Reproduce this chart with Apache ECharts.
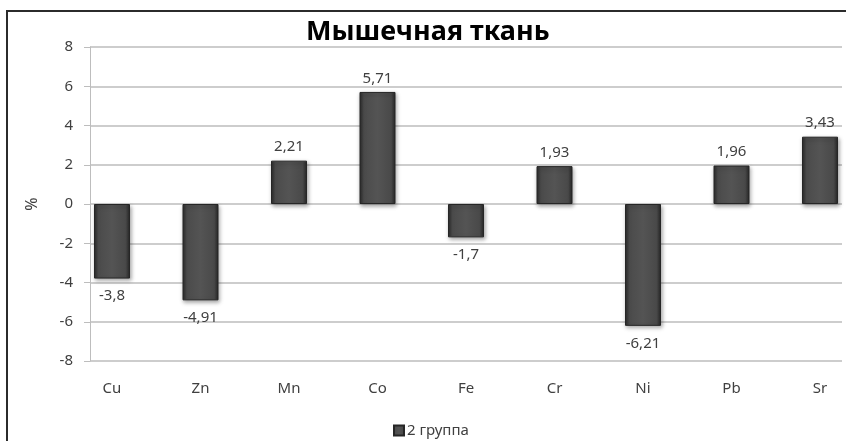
<!DOCTYPE html>
<html>
<head>
<meta charset="utf-8">
<script src="https://cdn.jsdelivr.net/npm/echarts@6/dist/echarts.min.js"></script>
<style>
  html, body { margin: 0; padding: 0; background: #fff; }
  #chart { width: 846px; height: 441px; }
</style>
</head>
<body>
<div id="chart"></div>
<script>
// Elements measured in muscle tissue, change in %
const categories = ['Cu', 'Zn', 'Mn', 'Co', 'Fe', 'Cr', 'Ni', 'Pb', 'Sr'];
const group2Values = [-3.8, -4.91, 2.21, 5.71, -1.7, 1.93, -6.21, 1.96, 3.43];
const yTicks = [-8, -6, -4, -2, 0, 2, 4, 6, 8];
const seriesName = '2 группа';
const chartTitle = 'Мышечная ткань';

const FONT = '"Noto Sans", "DejaVu Sans", sans-serif';
const TEXT = '#404040';

const barFill = {
  type: 'linear', x: 0, y: 0, x2: 1, y2: 0,
  colorStops: [
    { offset: 0, color: '#2a2a2a' },
    { offset: 0.12, color: '#4b4b4b' },
    { offset: 0.5, color: '#545454' },
    { offset: 0.88, color: '#494949' },
    { offset: 1, color: '#262626' }
  ]
};

const fmt = v => String(v).replace('.', ',');

// positive values are labelled above the bar, negative ones below it
const barData = group2Values.map(v => ({
  value: v,
  label: v >= 0 ? { position: 'top', distance: 6 } : { position: 'bottom', distance: 10 }
}));

const chart = echarts.init(document.getElementById('chart'), null, { renderer: 'canvas' });

chart.setOption({
  animation: false,
  backgroundColor: '#ffffff',
  title: {
    text: chartTitle,
    left: 306,
    top: 19,
    padding: 0,
    textStyle: { fontFamily: FONT, fontSize: 27, fontWeight: 'bold', color: '#000' }
  },
  legend: {
    bottom: 3,
    left: 393,
    padding: 0,
    icon: 'rect',
    itemWidth: 10,
    itemHeight: 10,
    itemGap: 4,
    data: [seriesName],
    textStyle: { fontFamily: FONT, fontSize: 15, color: TEXT, padding: [0, 0, 0, -2] }
  },
  grid: [
    { left: 90, right: 4, top: 47, bottom: 80 },
    { left: 112, right: 26, top: 47, bottom: 80 }
  ],
  xAxis: [
    { gridIndex: 0, type: 'category', data: categories, show: false },
    {
      gridIndex: 1, type: 'category', data: categories, boundaryGap: false,
      axisLine: { show: false }, axisTick: { show: false }, splitLine: { show: false },
      axisLabel: { margin: 20, fontFamily: FONT, fontSize: 15, color: TEXT }
    }
  ],
  yAxis: [
    {
      gridIndex: 0, type: 'value', min: yTicks[0], max: yTicks[yTicks.length - 1], interval: 2,
      name: '%', nameLocation: 'middle', nameRotate: 90, nameGap: 50,
      nameTextStyle: { fontFamily: FONT, fontSize: 16, color: TEXT },
      axisLine: { show: true, lineStyle: { color: '#bdbdbd', width: 1 } },
      axisTick: { show: true, length: 6, lineStyle: { color: '#bdbdbd' } },
      splitLine: { show: true, lineStyle: { color: '#bdbdbd', width: 1.5 } },
      axisLabel: { margin: 17, fontFamily: FONT, fontSize: 15, color: TEXT }
    },
    {
      gridIndex: 1, type: 'value', min: yTicks[0], max: yTicks[yTicks.length - 1], interval: 2,
      show: false, splitLine: { show: false }
    }
  ],
  series: [{
    name: seriesName,
    type: 'bar',
    xAxisIndex: 1,
    yAxisIndex: 1,
    barWidth: 36,
    data: barData,
    itemStyle: {
      color: barFill,
      borderColor: '#262626',
      borderWidth: 1,
      shadowColor: 'rgba(0,0,0,0.35)',
      shadowBlur: 4,
      shadowOffsetX: 1,
      shadowOffsetY: 2
    },
    label: {
      show: true,
      fontFamily: FONT,
      fontSize: 15,
      color: TEXT,
      formatter: p => fmt(p.value)
    }
  }],
  graphic: [
    { type: 'line', silent: true, shape: { x1: 6, y1: 11, x2: 846, y2: 11 }, style: { stroke: '#2b2b2b', lineWidth: 2 } },
    { type: 'line', silent: true, shape: { x1: 7, y1: 11, x2: 7, y2: 441 }, style: { stroke: '#2b2b2b', lineWidth: 2 } }
  ]
});
</script>
</body>
</html>
